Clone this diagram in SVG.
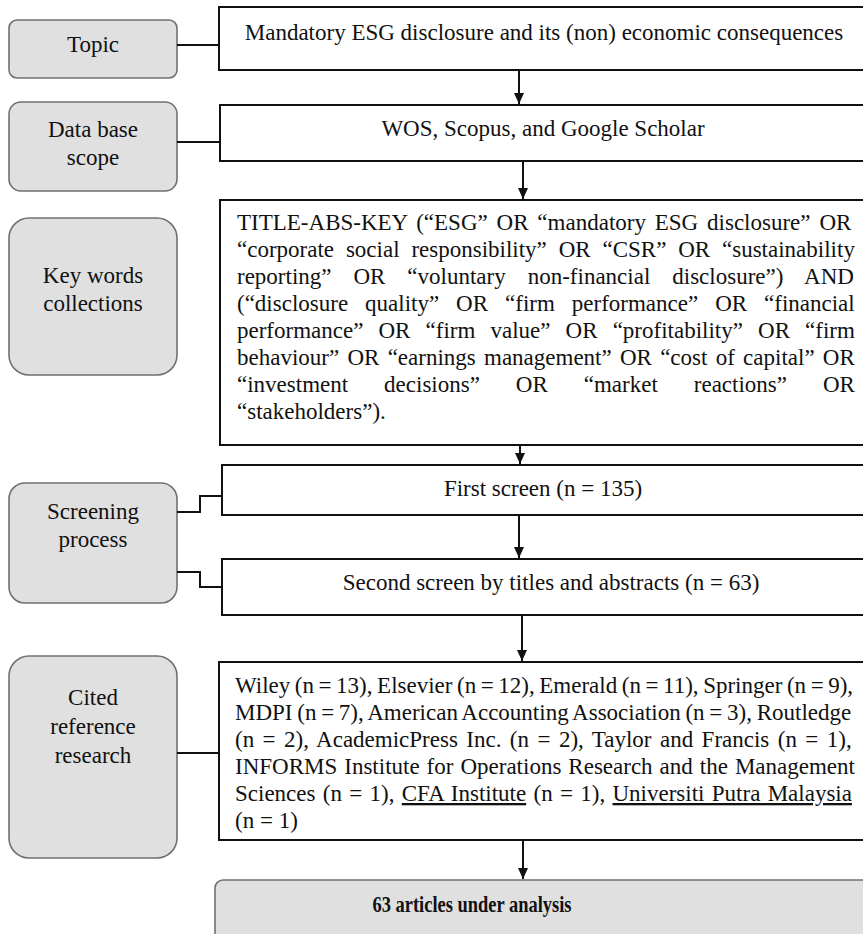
<svg xmlns="http://www.w3.org/2000/svg" width="863" height="934" viewBox="0 0 863 934">
<style>
  text { font-family: "Liberation Serif", "Times New Roman", serif; font-size: 23px; fill: #111; }
  .lbl { text-anchor: middle; }
  .ctr { text-anchor: middle; }
  .side { fill: #e0e0e0; stroke: #707070; stroke-width: 1.6; }
  .box { fill: #ffffff; stroke: #111; stroke-width: 2; }
  .conn { fill: none; stroke: #111; stroke-width: 2; }
  .arr { fill: none; stroke: #111; stroke-width: 2; marker-end: url(#ah); }
  .u { text-decoration: underline; }
</style>
<defs>
  <marker id="ah" markerUnits="userSpaceOnUse" markerWidth="12" markerHeight="12" refX="11" refY="5" orient="auto">
    <path d="M0,0 L11,5 L0,10 z" fill="#111"/>
  </marker>
</defs>
<rect width="863" height="934" fill="#ffffff"/>

<g id="topic-label">
  <rect class="side" x="9" y="20" width="168" height="58" rx="8"/>
  <text class="lbl" x="93" y="52">Topic</text>
</g>
<g id="database-label">
  <rect class="side" x="9" y="102" width="168" height="89" rx="12"/>
  <text class="lbl" x="93" y="137">Data base</text>
  <text class="lbl" x="93" y="165">scope</text>
</g>
<g id="keywords-label">
  <rect class="side" x="9" y="218" width="168" height="157" rx="20"/>
  <text class="lbl" x="93" y="283">Key words</text>
  <text class="lbl" x="93" y="311">collections</text>
</g>
<g id="screening-label">
  <rect class="side" x="9" y="483" width="168" height="120" rx="16"/>
  <text class="lbl" x="93" y="519">Screening</text>
  <text class="lbl" x="93" y="547">process</text>
</g>
<g id="cited-label">
  <rect class="side" x="9" y="656" width="168" height="202" rx="20"/>
  <text class="lbl" x="93" y="705">Cited</text>
  <text class="lbl" x="93" y="734">reference</text>
  <text class="lbl" x="93" y="763">research</text>
</g>

<g id="topic-box">
  <rect class="box" x="219" y="7" width="648" height="63"/>
  <text class="ctr" x="544" y="40">Mandatory ESG disclosure and its (non) economic consequences</text>
</g>
<g id="database-box">
  <rect class="box" x="220" y="105" width="648" height="56"/>
  <text class="ctr" x="543" y="136">WOS, Scopus, and Google Scholar</text>
</g>
<g id="keywords-box">
  <rect class="box" x="220" y="200" width="648" height="245"/>
  <text x="237" y="230" word-spacing="3.1">TITLE-ABS-KEY (“ESG” OR “mandatory ESG disclosure” OR</text>
  <text x="237" y="257" word-spacing="6.1">“corporate social responsibility” OR “CSR” OR “sustainability</text>
  <text x="237" y="284" word-spacing="16.2">reporting” OR “voluntary non-financial disclosure”) AND</text>
  <text x="237" y="311" word-spacing="11.2">(“disclosure quality” OR “firm performance” OR “financial</text>
  <text x="237" y="338" word-spacing="9.35">performance” OR “firm value” OR “profitability” OR “firm</text>
  <text x="237" y="365" word-spacing="2.5">behaviour” OR “earnings management” OR “cost of capital” OR</text>
  <text x="237" y="392" word-spacing="30.2">“investment decisions” OR “market reactions” OR</text>
  <text x="237" y="419">“stakeholders”).</text>
</g>
<g id="first-screen">
  <rect class="box" x="222" y="465" width="646" height="50"/>
  <text class="ctr" x="543" y="496">First screen (n = 135)</text>
</g>
<g id="second-screen">
  <rect class="box" x="222" y="559" width="646" height="56"/>
  <text class="ctr" x="551" y="590">Second screen by titles and abstracts (n = 63)</text>
</g>
<g id="cited-box">
  <rect class="box" x="219" y="662" width="648" height="178"/>
  <text x="235" y="693" word-spacing="-1.18">Wiley (n = 13), Elsevier (n = 12), Emerald (n = 11), Springer (n = 9),</text>
  <text x="235" y="720" word-spacing="-1.02">MDPI (n = 7), American Accounting Association (n = 3), Routledge</text>
  <text x="235" y="747" word-spacing="2.69">(n = 2), AcademicPress Inc. (n = 2), Taylor and Francis (n = 1),</text>
  <text x="235" y="774" word-spacing="1.24">INFORMS Institute for Operations Research and the Management</text>
  <text x="235" y="801" word-spacing="1.56">Sciences (n = 1), <tspan class="u">CFA Institute</tspan> (n = 1), <tspan class="u">Universiti Putra Malaysia</tspan></text>
  <text x="235" y="828">(n = 1)</text>
</g>
<g id="final-box">
  <rect class="side" x="215" y="880" width="680" height="80" rx="8"/>
  <text class="ctr" x="472" y="912" font-weight="bold" font-size="21" textLength="199" lengthAdjust="spacingAndGlyphs">63 articles under analysis</text>
</g>

<g id="connectors">
  <path class="conn" d="M177,45 H219"/>
  <path class="conn" d="M177,142 H220"/>
  <path class="conn" d="M177,512 H200 V496 H222"/>
  <path class="conn" d="M177,572 H200 V587 H222"/>
  <path class="conn" d="M177,753 H219"/>
  <path class="arr" d="M519,70 V104"/>
  <path class="arr" d="M523,161 V199"/>
  <path class="arr" d="M520,445 V464"/>
  <path class="arr" d="M519,515 V558"/>
  <path class="arr" d="M522,615 V661"/>
  <path class="arr" d="M523,840 V879"/>
</g>
</svg>
